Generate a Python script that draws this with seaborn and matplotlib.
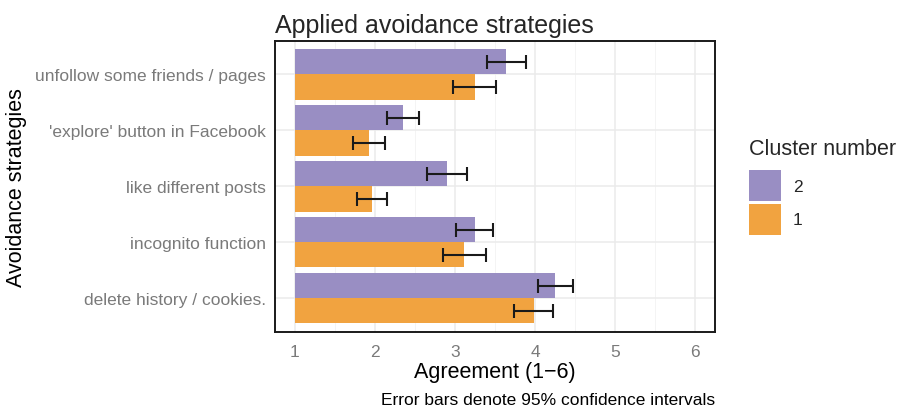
import seaborn as sns
import pandas as pd
import matplotlib.pyplot as plt
from matplotlib.ticker import MultipleLocator
from matplotlib.patches import Patch

# data
strategies = ["unfollow some friends / pages", "'explore' button in Facebook",
              "like different posts", "incognito function", "delete history / cookies."]
clusters = ["2", "1"]
mean_c2 = [3.64, 2.35, 2.90, 3.25, 4.25]
lo_c2 = [3.40, 2.15, 2.65, 3.01, 4.03]
hi_c2 = [3.89, 2.55, 3.15, 3.48, 4.47]
mean_c1 = [3.25, 1.93, 1.96, 3.11, 3.99]
lo_c1 = [2.98, 1.73, 1.77, 2.85, 3.74]
hi_c1 = [3.51, 2.13, 2.15, 3.39, 4.22]

colors = {"2": "#998ec3", "1": "#f1a340"}

rows = []
for i, s in enumerate(strategies):
    rows.append({"Strategy": s, "Cluster": "2", "Mean": mean_c2[i], "lo": lo_c2[i], "hi": hi_c2[i]})
    rows.append({"Strategy": s, "Cluster": "1", "Mean": mean_c1[i], "lo": lo_c1[i], "hi": hi_c1[i]})
df = pd.DataFrame(rows)

sns.set_style("white")
plt.rcParams['font.family'] = ['Liberation Sans', 'DejaVu Sans']

fig = plt.figure(figsize=(9.01, 4.14), dpi=100)
ax = fig.add_axes([0.305, 0.196, 0.489, 0.703])

sns.barplot(data=df, y="Strategy", x="Mean", hue="Cluster", order=strategies,
            hue_order=clusters, palette=colors, orient="h", width=0.9,
            errorbar=None, saturation=1, legend=False, linewidth=0, ax=ax, zorder=2)

# bars start at 1 (bottom of the scale); error bars placed from the bar geometry
bars = list(ax.patches)
idx = 0
for cl in clusters:
    sub = df[df["Cluster"] == cl].set_index("Strategy").loc[strategies]
    for s in strategies:
        p = bars[idx]
        idx += 1
        r = sub.loc[s]
        p.set_x(1)
        p.set_width(r["Mean"] - 1)
        yc = p.get_y() + p.get_height() / 2
        ax.errorbar(r["Mean"], yc, xerr=[[r["Mean"] - r["lo"]], [r["hi"] - r["Mean"]]],
                    fmt="none", ecolor="#1a1a1a", elinewidth=1.5, capsize=4.8,
                    capthick=1.5, zorder=3)

ax.set_xlim(0.75, 6.25)
ax.set_ylim(4.6, -0.6)
ax.xaxis.set_major_locator(MultipleLocator(1))
ax.xaxis.set_minor_locator(MultipleLocator(0.5))
ax.grid(True, which="major", color="#ebebeb", linewidth=1.1, zorder=0)
ax.grid(True, which="minor", axis="x", color="#f2f2f2", linewidth=0.6, zorder=0)
ax.set_axisbelow(True)
for sp in ax.spines.values():
    sp.set_visible(True)
    sp.set_color("#1a1a1a")
    sp.set_linewidth(1.4)
ax.tick_params(axis="both", which="major", direction="out", length=3.5, width=1.3,
               color="#1a1a1a", labelcolor="#7a7a7a", labelsize=12.5, pad=3)
ax.tick_params(axis="x", which="major", pad=5)
ax.tick_params(axis="x", which="minor", length=0)
ax.set_xticks([1, 2, 3, 4, 5, 6])
ax.set_xlabel("Agreement (1\u22126)", fontsize=15.5, color="black", labelpad=2)
ax.set_ylabel("Avoidance strategies", fontsize=15.5, color="black", labelpad=6)
ax.set_title("Applied avoidance strategies", fontsize=18, loc="left", pad=6)

handles = [Patch(facecolor=colors[c], edgecolor="none", label=c) for c in clusters]
leg = ax.legend(handles=handles, title="Cluster number", loc="center left",
                bbox_to_anchor=(1.06, 0.5), frameon=False, fontsize=12.5,
                title_fontsize=15.5, handlelength=1.84, handleheight=2.36,
                labelspacing=0.15, handletextpad=0.7, borderaxespad=0)
leg._legend_box.align = "left"
leg._legend_box.sep = 8

fig.text(0.794, 0.033, "Error bars denote 95% confidence intervals",
         ha="right", va="center", fontsize=12.5, color="black")

fig.savefig("out.png", dpi=100)
